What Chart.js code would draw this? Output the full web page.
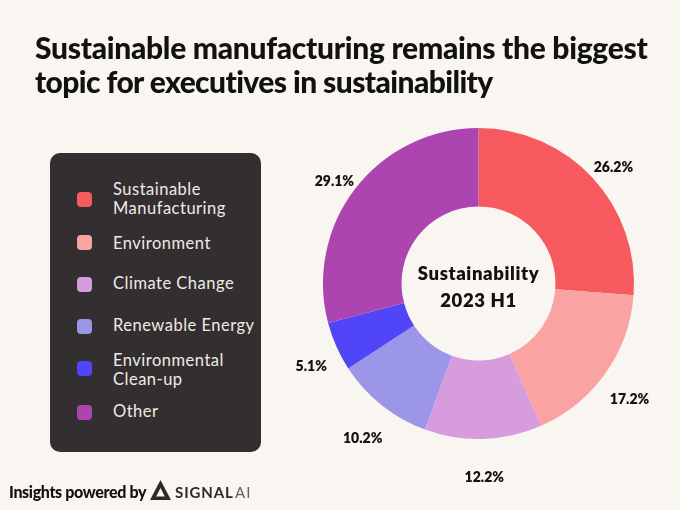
<!DOCTYPE html>
<html><head><meta charset="utf-8">
<script src="https://cdn.jsdelivr.net/npm/chart.js@4"></script>
<style>
html,body{margin:0;padding:0;background:#F9F5F0;width:680px;height:510px;overflow:hidden}
body{position:relative;font-family:Lato,sans-serif;color:#111}
#c{position:absolute;left:0;top:0}
.t{position:absolute;white-space:nowrap}
#title{left:35px;top:30px;font-size:30px;font-weight:900;line-height:34px;letter-spacing:-.3px;color:#111}
#title span{letter-spacing:-.6px}
#panel{position:absolute;left:50px;top:153px;width:211px;height:299px;border-radius:10px;background:#332E2F}
.sw{position:absolute;left:77px;width:15px;height:15px;border-radius:4px}
.lg{position:absolute;left:113px;color:#EFEBE6;font-size:16.5px;line-height:19px;letter-spacing:.5px;white-space:nowrap}
#foot{left:9px;top:482px;font-size:16px;font-weight:900;letter-spacing:-.35px;line-height:20px}
#sig{left:175px;top:482px;font-size:15px;font-weight:700;letter-spacing:.9px;line-height:20px;color:#2b2b2b}
#sigb{left:235px;top:482px;font-size:15px;font-weight:400;letter-spacing:1px;line-height:20px;color:#5e5e5e}
</style></head><body>
<canvas id="c" width="680" height="510"></canvas>
<div class="t" id="title">Sustainable manufacturing remains the biggest<br><span>topic for executives in sustainability</span></div>
<div id="panel"></div>
<div id="legend"></div>
<div class="t" id="foot">Insights powered by</div>
<svg style="position:absolute;left:149px;top:479px" width="23" height="22" viewBox="0 0 23 22">
<path d="M11.5 1 L22 21 L1 21 Z M11.5 9 L7.2 17.5 L15.8 17.5 Z" fill="#2b2b2b" fill-rule="evenodd"/></svg>
<div class="t" id="sig">SIGNAL</div>
<div class="t" id="sigb">AI</div>
<script>
const categories=["Sustainable Manufacturing","Environment","Climate Change","Renewable Energy","Environmental Clean-up","Other"];
const legendLines=[["Sustainable","Manufacturing"],["Environment"],["Climate Change"],["Renewable Energy"],["Environmental","Clean-up"],["Other"]];
const values=[26.2,17.2,12.2,10.2,5.1,29.1];
const colors=["#F65A5F","#F9A3A3","#D69CDD","#9B96E8","#5046F8","#AC45B0"];
const centerLines=["Sustainability","2023 H1"];
const legendRowY=[199,242,284,326,368,412];
const legendTextY=[199,243,283,325,370,411];
const labelRadius=[184,185,185,186,183,182];
const labelDropY=9;

const lg=document.getElementById('legend');
categories.forEach((c,i)=>{
  const s=document.createElement('div');s.className='sw';s.style.top=(legendRowY[i]-7.5)+'px';s.style.background=colors[i];lg.appendChild(s);
  const d=document.createElement('div');d.className='lg';d.innerHTML=legendLines[i].join('<br>');
  d.style.top=(legendTextY[i]-legendLines[i].length*9.5)+'px';lg.appendChild(d);
});

const labelsPlugin={id:'labelsPlugin',afterDatasetsDraw(chart){
  const ctx=chart.ctx,arcs=chart.getDatasetMeta(0).data;
  ctx.save();ctx.textAlign='center';ctx.textBaseline='middle';ctx.fillStyle='#111';
  ctx.font='800 14px Lato';
  arcs.forEach((a,i)=>{
    const mid=(a.startAngle+a.endAngle)/2,r=labelRadius[i];
    ctx.fillText(values[i].toFixed(1)+'%',a.x+Math.cos(mid)*r,a.y+labelDropY+Math.sin(mid)*r);
  });
  const a0=arcs[0];
  ctx.font='800 18.5px Lato';ctx.letterSpacing='.6px';
  ctx.fillText(centerLines[0],a0.x,a0.y-9);
  ctx.fillText(centerLines[1],a0.x,a0.y+18);
  ctx.restore();
}};

new Chart(document.getElementById('c'),{
  type:'doughnut',
  data:{labels:categories,datasets:[{data:values,backgroundColor:colors,borderWidth:0}]},
  options:{responsive:false,animation:false,cutout:'49.5%',
    layout:{padding:{left:323,right:46,top:128,bottom:71}},
    plugins:{legend:{display:false},tooltip:{enabled:false}}},
  plugins:[labelsPlugin]
});
</script>
</body></html>
